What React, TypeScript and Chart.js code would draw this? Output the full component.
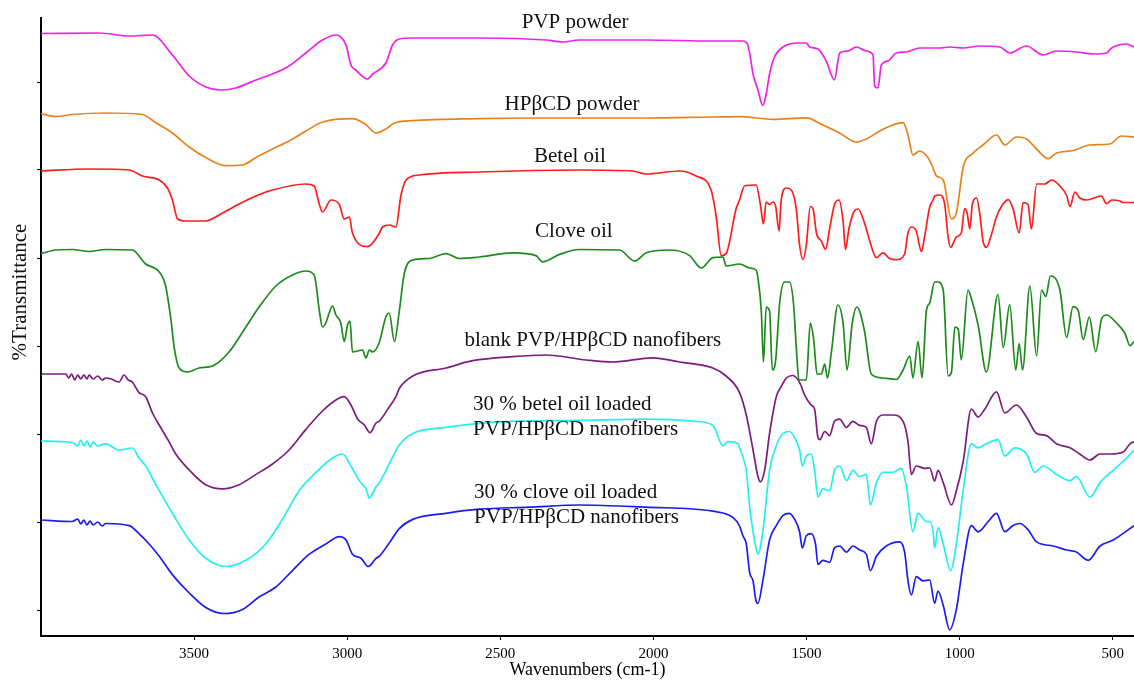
import React, { useEffect, useRef } from "react";
import { Chart, registerables } from "chart.js";

Chart.register(...registerables);

type Pt = [number, number];

// [wavenumber (cm-1), offset %T]
const pvpPowder: Pt[] = [
  [4000, 602.5], [3810, 603], [3712, 600], [3636, 601], [3571, 581], [3516, 560], [3462, 549], [3413, 546],
  [3364, 548], [3298, 556], [3244, 562], [3195, 569], [3135, 583], [3081, 596], [3037, 601], [3021, 599],
  [3004, 591], [2988, 571], [2972, 566], [2934, 557], [2917, 562], [2874, 573], [2852, 591], [2830, 597],
  [2786, 598], [2569, 598], [2351, 596], [2296, 594], [2242, 596], [2024, 596], [1806, 595], [1708, 595],
  [1692, 591], [1686, 583], [1675, 562], [1659, 546], [1643, 530.5], [1632, 542], [1621, 562], [1605, 579],
  [1577, 589], [1528, 593], [1501, 593], [1490, 589], [1463, 587], [1436, 575], [1409, 556], [1392, 583],
  [1365, 585], [1338, 589], [1305, 585], [1283, 581], [1278, 550], [1267, 548], [1256, 571], [1234, 575],
  [1207, 583], [1174, 584], [1131, 588], [1065, 588], [1033, 589], [989, 588], [935, 590], [869, 589],
  [837, 583], [782, 590], [728, 581], [684, 585], [619, 584], [564, 582], [521, 583], [504, 588],
  [455, 592], [431, 589],
];

const hpbcdPowder: Pt[] = [
  [4000, 522.3], [3952, 519.4], [3898, 521.5], [3789, 523], [3669, 521.5], [3625, 513.3], [3571, 503],
  [3516, 489], [3462, 478.5], [3396, 470.4], [3342, 471], [3298, 478.5], [3244, 487], [3190, 495],
  [3135, 505], [3081, 514], [2983, 517.4], [2939, 511.3], [2906, 503], [2874, 507], [2846, 513],
  [2786, 515.4], [2569, 517.4], [2351, 518], [2024, 518], [1806, 519], [1719, 519.4], [1610, 516.6],
  [1501, 518.2], [1447, 511], [1392, 503], [1338, 494], [1305, 497], [1261, 505], [1218, 511],
  [1185, 513.3], [1169, 501], [1153, 481], [1131, 485], [1104, 478.5], [1090, 470], [1076, 460],
  [1054, 456], [1027, 417], [1011, 423.3], [989, 468.3], [956, 483], [924, 491], [880, 501], [853, 491],
  [815, 499], [782, 497], [749, 487], [711, 477.3], [684, 483], [630, 485.5], [575, 491], [510, 492],
  [472, 500], [431, 499],
];

const betelOil: Pt[] = [
  [4000, 465], [3843, 467], [3712, 466], [3669, 460], [3614, 456], [3587, 448], [3571, 436], [3554, 417],
  [3527, 415], [3462, 415], [3407, 423], [3353, 432], [3298, 440], [3244, 446], [3135, 452], [3108, 450],
  [3091, 431.5], [3081, 424], [3053, 436], [3026, 431.5], [3010, 417], [2993, 419], [2983, 403],
  [2934, 389.4], [2917, 393], [2895, 403], [2885, 409], [2863, 411], [2841, 409], [2825, 440], [2808, 456],
  [2765, 461], [2569, 464], [2242, 466], [2068, 465], [2024, 462], [1915, 465], [1861, 460], [1812, 446],
  [1795, 419], [1779, 380.4], [1763, 382.4], [1730, 427.4], [1719, 436], [1703, 450], [1665, 451],
  [1651, 431.5], [1641, 412], [1632, 434], [1621, 431.5], [1610, 434], [1601, 429.5], [1590, 405],
  [1583, 436], [1566, 448], [1550, 446], [1534, 427.4], [1523, 391], [1512, 376.3], [1501, 391],
  [1488, 429.5], [1479, 427.4], [1468, 403], [1452, 395], [1438, 386.5], [1425, 407], [1409, 431.5],
  [1394, 436], [1381, 415], [1373, 386.5], [1362, 407], [1343, 425.4], [1332, 427], [1311, 413],
  [1294, 395], [1272, 378.3], [1251, 383.2], [1229, 377.5], [1207, 376.3], [1180, 382], [1169, 403],
  [1158, 409], [1142, 405], [1125, 384.5], [1115, 399], [1098, 429], [1087, 436], [1082, 440],
  [1065, 441], [1049, 431.5], [1038, 399], [1030, 388.6], [1011, 399], [995, 403], [984, 427.4],
  [976, 423.3], [967, 407], [959, 431.5], [945, 438], [935, 423.3], [924, 395], [913, 388.6], [897, 401],
  [880, 419.2], [864, 429.5], [842, 436.4], [826, 427.4], [806, 403], [793, 433.5], [777, 431.5],
  [766, 407], [749, 452], [722, 452], [700, 456], [673, 450], [651, 440.5], [640, 429.5], [624, 444],
  [608, 438], [586, 436], [537, 440], [521, 432.3], [504, 436], [477, 435], [466, 433.5], [431, 433.5],
];

const cloveOil: Pt[] = [
  [4000, 382.4], [3952, 386], [3898, 386.5], [3843, 384.5], [3789, 386.5], [3702, 386], [3658, 372],
  [3614, 364], [3593, 350], [3576, 317], [3565, 288.4], [3549, 268], [3522, 264], [3484, 268], [3440, 270],
  [3386, 284], [3331, 309], [3288, 329], [3233, 350], [3179, 361], [3135, 365], [3108, 361], [3091, 325],
  [3081, 309], [3070, 313], [3059, 323], [3048, 330], [3037, 321], [3021, 313], [3010, 294.5], [2999, 311],
  [2991, 315], [2983, 284], [2950, 286], [2939, 278], [2928, 286], [2917, 284], [2895, 294], [2874, 319],
  [2863, 323], [2846, 294.5], [2830, 325], [2814, 362], [2786, 376], [2732, 377.5], [2678, 382.4],
  [2634, 377.5], [2569, 379], [2460, 383.2], [2384, 380.4], [2362, 374.2], [2307, 381.6], [2242, 386.5],
  [2111, 386], [2062, 375], [2024, 383.2], [1948, 386], [1882, 380.4], [1844, 368], [1806, 378.3],
  [1773, 379], [1763, 370], [1719, 372], [1686, 368], [1665, 366], [1659, 358], [1648, 325], [1641, 274],
  [1632, 329], [1621, 325], [1612, 266], [1601, 276], [1588, 333], [1572, 354], [1556, 354], [1543, 333],
  [1532, 280], [1525, 256], [1501, 256], [1488, 313], [1477, 296.5], [1466, 262], [1452, 262], [1441, 272],
  [1432, 258], [1419, 284], [1398, 331], [1381, 313], [1368, 266], [1351, 313], [1336, 329], [1311, 305],
  [1289, 262], [1251, 258], [1207, 256.5], [1185, 266], [1163, 280], [1153, 258], [1136, 294.5],
  [1123, 258], [1109, 325], [1098, 333], [1082, 354], [1071, 354], [1054, 346], [1038, 260], [1027, 264],
  [1016, 309], [1005, 307], [995, 276], [973, 346], [962, 337.4], [940, 311], [913, 264], [875, 341.5],
  [858, 288.4], [837, 331.3], [817, 266], [806, 292.4], [795, 266], [771, 350], [749, 280], [733, 346],
  [719, 339.5], [704, 360], [673, 346], [651, 298.6], [630, 329.3], [613, 325.2], [597, 296.5], [577, 319],
  [556, 284.3], [537, 317], [521, 321], [488, 313], [461, 303], [444, 290.4], [431, 294.5],
];

const blankFibers: Pt[] = [
  [4000, 262], [3919, 262], [3910, 258], [3900, 262], [3890, 256], [3880, 261], [3870, 257], [3860, 261],
  [3850, 257], [3843, 261], [3830, 257], [3815, 260], [3800, 256], [3789, 258], [3770, 257], [3745, 254],
  [3729, 261], [3715, 256], [3702, 254], [3680, 243.4], [3658, 239.3], [3636, 223], [3614, 211],
  [3582, 194.3], [3560, 182], [3516, 166], [3462, 151.3], [3407, 147.2], [3353, 151.3], [3298, 161.6],
  [3244, 172], [3190, 186], [3135, 206.6], [3081, 225], [3037, 236], [3010, 239.3], [2988, 231],
  [2966, 217], [2944, 211], [2926, 203.3], [2906, 213], [2895, 215], [2863, 229], [2841, 239.3],
  [2830, 247.5], [2786, 260], [2678, 268], [2590, 275.3], [2460, 279.4], [2351, 281], [2220, 276],
  [2133, 274], [2002, 278.1], [1915, 274], [1806, 268], [1763, 260], [1719, 243.4], [1697, 221],
  [1675, 186], [1659, 159.5], [1651, 154.2], [1637, 166], [1621, 202.5], [1599, 239.3], [1583, 249.5],
  [1566, 258], [1545, 260.5], [1523, 253.6], [1507, 241.3], [1485, 231], [1474, 227], [1463, 198.4],
  [1457, 196.3], [1441, 204.5], [1425, 200.4], [1409, 214.7], [1392, 216.8], [1370, 208.6], [1349, 214.7],
  [1327, 210.6], [1305, 208.6], [1289, 192.2], [1272, 214.7], [1251, 221], [1218, 221], [1185, 214.7],
  [1169, 194.3], [1158, 161.6], [1142, 170], [1115, 167.7], [1098, 168], [1082, 155], [1071, 165.7],
  [1054, 153.4], [1027, 131], [1011, 145.2], [989, 174], [962, 227], [940, 219], [918, 227], [880, 244.2],
  [853, 223], [815, 231], [782, 219], [749, 202.5], [717, 200.4], [684, 192.2], [640, 188.2], [608, 182],
  [575, 176], [542, 182], [510, 182], [466, 184], [444, 192.2], [431, 194.3],
];

const betelFibers: Pt[] = [
  [4000, 195], [3898, 193.5], [3880, 190], [3870, 196], [3860, 190], [3850, 195], [3840, 189], [3830, 194],
  [3815, 190], [3789, 192.2], [3745, 186], [3702, 188], [3680, 178], [3658, 170], [3625, 151.3],
  [3571, 122.7], [3516, 96], [3462, 77.7], [3396, 69.5], [3331, 75.7], [3266, 92], [3212, 116.6],
  [3157, 145.2], [3102, 163.6], [3048, 178], [3015, 182], [2988, 170], [2961, 155.4], [2939, 147.2],
  [2928, 138], [2906, 149.3], [2895, 153.4], [2863, 172], [2830, 191], [2786, 202.5], [2678, 208.6],
  [2569, 212.7], [2460, 214.7], [2242, 215.6], [2024, 216.8], [1861, 214.7], [1806, 210.6], [1773, 190.2],
  [1757, 194.3], [1724, 192.2], [1719, 188], [1703, 174], [1697, 165.7], [1686, 129], [1681, 116.6],
  [1665, 88], [1659, 81.8], [1643, 104.3], [1621, 165.7], [1599, 190.2], [1577, 202.5], [1556, 204.5],
  [1539, 198.4], [1523, 186], [1514, 170], [1501, 180], [1485, 182], [1474, 165.7], [1463, 139],
  [1447, 147.2], [1425, 145.2], [1409, 165.7], [1392, 170], [1370, 155.4], [1349, 165.7], [1327, 159.5],
  [1305, 161.6], [1292, 131], [1272, 153.4], [1251, 163.6], [1218, 163.6], [1191, 167.7], [1174, 149.3],
  [1153, 104.3], [1136, 122.7], [1109, 114.5], [1098, 114.5], [1087, 104.3], [1082, 88], [1071, 108.4],
  [1054, 92], [1030, 65.4], [1011, 92], [989, 145.2], [962, 192.2], [940, 188.2], [913, 192.2],
  [875, 196.3], [853, 180], [820, 188.2], [782, 182], [755, 163.6], [728, 170], [684, 161.6], [640, 155.4],
  [619, 159.5], [575, 139], [542, 153.4], [499, 165.7], [455, 178], [431, 186],
];

const cloveFibers: Pt[] = [
  [4000, 116], [3898, 114.5], [3880, 117], [3870, 112], [3860, 116], [3850, 111], [3840, 115], [3830, 111],
  [3815, 114], [3800, 110], [3789, 112.5], [3712, 110.4], [3680, 102.3], [3647, 92], [3614, 79.8],
  [3571, 61.4], [3516, 43], [3462, 28.6], [3402, 22.5], [3342, 26.6], [3288, 39], [3233, 49], [3179, 65.4],
  [3124, 81.8], [3070, 92], [3026, 99.4], [3004, 96], [2983, 81.8], [2955, 77.7], [2931, 69.5],
  [2906, 77.7], [2895, 79.8], [2863, 93], [2830, 107.4], [2786, 116.6], [2678, 122.7], [2569, 126.8],
  [2406, 128.8], [2242, 131], [2024, 128.8], [1806, 124.8], [1741, 118.6], [1719, 110], [1708, 100.2],
  [1697, 92], [1686, 63.4], [1675, 55.2], [1665, 34.8], [1659, 32.7], [1643, 55.2], [1621, 96.1],
  [1599, 110.4], [1577, 120.7], [1556, 122.7], [1539, 116.6], [1523, 104.3], [1514, 88], [1501, 100.2],
  [1485, 102.3], [1471, 92], [1463, 71.6], [1447, 75.7], [1425, 73.6], [1409, 88], [1392, 90],
  [1370, 83.9], [1349, 90], [1327, 86], [1305, 81.8], [1292, 65.4], [1272, 79.8], [1240, 90], [1196, 94.1],
  [1180, 83.9], [1169, 55.2], [1158, 41], [1142, 59.3], [1120, 55.2], [1098, 56], [1082, 32.7], [1071, 45],
  [1054, 30.7], [1033, 6.1], [1011, 26.6], [989, 71.6], [962, 110.4], [940, 104.3], [907, 114.5],
  [880, 122.7], [853, 104.3], [826, 110.4], [804, 112.5], [777, 106.3], [749, 94.1], [695, 90], [651, 86],
  [619, 83.9], [581, 75.7], [542, 90], [499, 96], [431, 110.4],
];

const seriesData: Pt[][] = [pvpPowder, hpbcdPowder, betelOil, cloveOil, blankFibers, betelFibers, cloveFibers];
const seriesNames = [
  "PVP powder",
  "HPβCD powder",
  "Betel oil",
  "Clove oil",
  "blank PVP/HPβCD nanofibers",
  "30 % betel oil loaded PVP/HPβCD nanofibers",
  "30 % clove oil loaded PVP/HPβCD nanofibers",
];
const seriesColors = ["#f020e8", "#e8821c", "#ff1c1c", "#1c8a1c", "#7c1c80", "#22f0f0", "#1c1cf0"];

const xTickValues = [3500, 3000, 2500, 2000, 1500, 1000, 500];
const yTickValues = [26, 114, 202, 290, 378, 466, 554];

// curve captions, anchored in data units (wavenumber, offset %T)
const captionLines = [
  { text: "PVP powder", wn: 2256, t: 614, align: "center" },
  { text: "HPβCD powder", wn: 2266, t: 532, align: "center" },
  { text: "Betel oil", wn: 2273, t: 480, align: "center" },
  { text: "Clove oil", wn: 2260, t: 405, align: "center" },
  { text: "blank PVP/HPβCD nanofibers", wn: 2198, t: 296, align: "center" },
  { text: "30 % betel oil loaded", wn: 2589, t: 232, align: "left" },
  { text: "PVP/HPβCD nanofibers", wn: 2589, t: 206.5, align: "left" },
  { text: "30 % clove oil loaded", wn: 2586, t: 144, align: "left" },
  { text: "PVP/HPβCD nanofibers", wn: 2586, t: 119, align: "left" },
];

const SERIF = '"Liberation Serif", "Times New Roman", serif';

const captionPlugin = {
  id: "captions",
  afterDatasetsDraw(chart: any) {
    const { ctx, scales } = chart;
    const xs = scales.x;
    const ys = scales.y;
    ctx.save();
    ctx.fillStyle = "#111";
    ctx.font = `21px ${SERIF}`;
    ctx.textBaseline = "middle";
    captionLines.forEach((c) => {
      ctx.textAlign = c.align as CanvasTextAlign;
      ctx.fillText(c.text, xs.getPixelForValue(c.wn), ys.getPixelForValue(c.t));
    });
    // y-axis title
    ctx.translate(20, 292);
    ctx.rotate(-Math.PI / 2);
    ctx.textAlign = "center";
    ctx.font = `21px ${SERIF}`;
    ctx.fillText("%Transmittance", 0, 0);
    ctx.restore();
  },
};

export default function App() {
  const canvasRef = useRef<HTMLCanvasElement | null>(null);

  useEffect(() => {
    const canvas = canvasRef.current;
    if (!canvas) return;
    const chart = new Chart(canvas, {
      type: "line",
      data: {
        datasets: seriesData.map((pts, i) => ({
          label: seriesNames[i],
          data: pts.map(([x, y]) => ({ x, y })),
          borderColor: seriesColors[i],
          backgroundColor: seriesColors[i],
          borderWidth: 1.7,
          pointRadius: 0,
          cubicInterpolationMode: "monotone",
          fill: false,
          borderJoinStyle: "round",
        })),
      },
      options: {
        responsive: false,
        devicePixelRatio: 1,
        animation: false,
        layout: { padding: { top: 18, right: 0, bottom: 0, left: 0 } },
        plugins: {
          legend: { display: false },
          tooltip: { enabled: false },
        },
        scales: {
          x: {
            type: "linear",
            min: 431,
            max: 4000,
            reverse: true,
            afterBuildTicks: (s: any) => {
              s.ticks = xTickValues.map((v) => ({ value: v }));
            },
            afterFit: (s: any) => {
              s.height = 46;
            },
            border: { display: true, color: "#000", width: 2 },
            grid: { drawOnChartArea: false, drawTicks: true, tickLength: 4, color: "#000", lineWidth: 1 },
            ticks: {
              color: "#000",
              font: { family: SERIF, size: 15 },
              padding: 5,
              maxRotation: 0,
              autoSkip: false,
              callback: (v: any) => String(v),
            },
            title: {
              display: true,
              text: "Wavenumbers (cm-1)",
              color: "#000",
              font: { family: SERIF, size: 18 },
              padding: { top: 0, bottom: 1 },
            },
          },
          y: {
            type: "linear",
            min: 0,
            max: 618,
            afterBuildTicks: (s: any) => {
              s.ticks = yTickValues.map((v) => ({ value: v }));
            },
            afterFit: (s: any) => {
              s.width = 41;
            },
            border: { display: true, color: "#000", width: 2 },
            grid: { drawOnChartArea: false, drawTicks: true, tickLength: 4, color: "#000", lineWidth: 1 },
            ticks: { display: false },
          },
        },
      },
      plugins: [captionPlugin],
    });
    return () => chart.destroy();
  }, []);

  return (
    <div style={{ position: "absolute", left: 0, top: 0, width: 1134, height: 682, background: "#fff" }}>
      <canvas ref={canvasRef} width={1134} height={682} style={{ display: "block" }} />
    </div>
  );
}
